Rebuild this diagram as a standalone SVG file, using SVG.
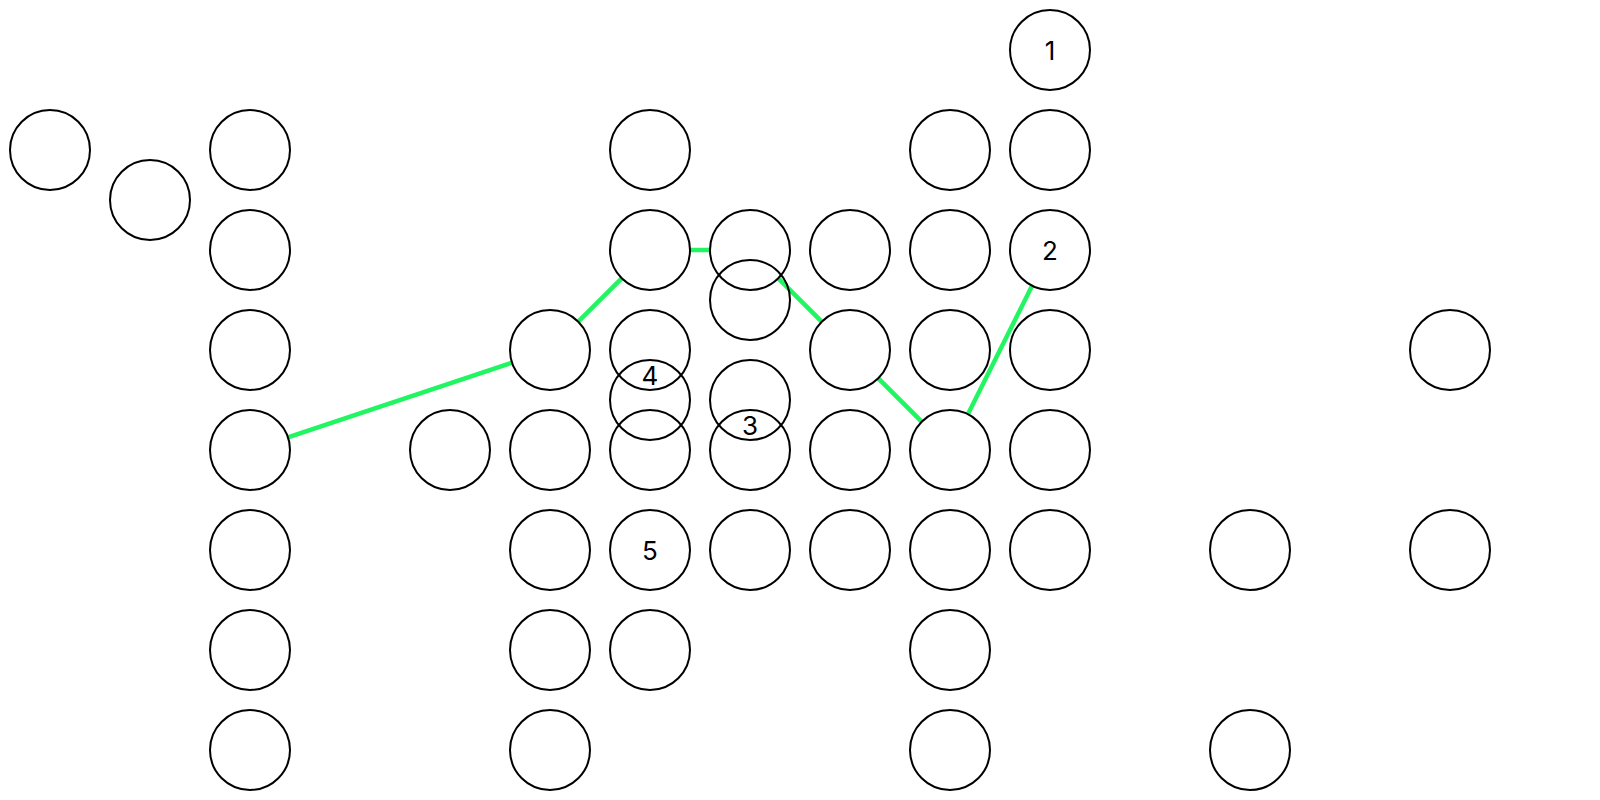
<svg xmlns="http://www.w3.org/2000/svg" width="1600" height="800" viewBox="0 0 1600 800">
<style>
.n{fill:none;stroke:#000;stroke-width:2}
.e{stroke:#22f562;stroke-width:4.5;fill:none}
.t{font-family:Inter,"Liberation Sans",sans-serif;font-size:26px;fill:#000;text-anchor:middle;dominant-baseline:central}
</style>
<rect width="1600" height="800" fill="#fff"/>
<g id="connectors">
<line class="e" x1="287.9" y1="437.4" x2="512.1" y2="362.6"/>
<line class="e" x1="578.3" y1="321.7" x2="621.7" y2="278.3"/>
<line class="e" x1="690" y1="250" x2="710" y2="250"/>
<line class="e" x1="778.3" y1="278.3" x2="821.7" y2="321.7"/>
<line class="e" x1="878.3" y1="378.3" x2="921.7" y2="421.7"/>
<line class="e" x1="967.9" y1="414.2" x2="1032.1" y2="285.8"/>
</g>
<g id="n1"><circle class="n" cx="1050" cy="50" r="40"/><text class="t" x="1050" y="50">1</text></g>
<g id="n_50_150"><circle class="n" cx="50" cy="150" r="40"/></g>
<g id="n_150_200"><circle class="n" cx="150" cy="200" r="40"/></g>
<g id="n_250_150"><circle class="n" cx="250" cy="150" r="40"/></g>
<g id="n_250_250"><circle class="n" cx="250" cy="250" r="40"/></g>
<g id="n_250_350"><circle class="n" cx="250" cy="350" r="40"/></g>
<g id="n_250_450"><circle class="n" cx="250" cy="450" r="40"/></g>
<g id="n_250_550"><circle class="n" cx="250" cy="550" r="40"/></g>
<g id="n_250_650"><circle class="n" cx="250" cy="650" r="40"/></g>
<g id="n_250_750"><circle class="n" cx="250" cy="750" r="40"/></g>
<g id="n_650_150"><circle class="n" cx="650" cy="150" r="40"/></g>
<g id="n_950_150"><circle class="n" cx="950" cy="150" r="40"/></g>
<g id="n_1050_150"><circle class="n" cx="1050" cy="150" r="40"/></g>
<g id="n_650_250"><circle class="n" cx="650" cy="250" r="40"/></g>
<g id="n_750_250"><circle class="n" cx="750" cy="250" r="40"/></g>
<g id="n_850_250"><circle class="n" cx="850" cy="250" r="40"/></g>
<g id="n_950_250"><circle class="n" cx="950" cy="250" r="40"/></g>
<g id="n2"><circle class="n" cx="1050" cy="250" r="40"/><text class="t" x="1050" y="250">2</text></g>
<g id="n_750_300"><circle class="n" cx="750" cy="300" r="40"/></g>
<g id="n_550_350"><circle class="n" cx="550" cy="350" r="40"/></g>
<g id="n_650_350"><circle class="n" cx="650" cy="350" r="40"/></g>
<g id="n_850_350"><circle class="n" cx="850" cy="350" r="40"/></g>
<g id="n_950_350"><circle class="n" cx="950" cy="350" r="40"/></g>
<g id="n_1050_350"><circle class="n" cx="1050" cy="350" r="40"/></g>
<g id="n_1450_350"><circle class="n" cx="1450" cy="350" r="40"/></g>
<g id="n_650_400"><circle class="n" cx="650" cy="400" r="40"/></g>
<g id="n_750_400"><circle class="n" cx="750" cy="400" r="40"/></g>
<g id="n_450_450"><circle class="n" cx="450" cy="450" r="40"/></g>
<g id="n_550_450"><circle class="n" cx="550" cy="450" r="40"/></g>
<g id="n_650_450"><circle class="n" cx="650" cy="450" r="40"/></g>
<g id="n_750_450"><circle class="n" cx="750" cy="450" r="40"/></g>
<g id="n_850_450"><circle class="n" cx="850" cy="450" r="40"/></g>
<g id="n_950_450"><circle class="n" cx="950" cy="450" r="40"/></g>
<g id="n_1050_450"><circle class="n" cx="1050" cy="450" r="40"/></g>
<g id="n_550_550"><circle class="n" cx="550" cy="550" r="40"/></g>
<g id="n5"><circle class="n" cx="650" cy="550" r="40"/><text class="t" x="650" y="550">5</text></g>
<g id="n_750_550"><circle class="n" cx="750" cy="550" r="40"/></g>
<g id="n_850_550"><circle class="n" cx="850" cy="550" r="40"/></g>
<g id="n_950_550"><circle class="n" cx="950" cy="550" r="40"/></g>
<g id="n_1050_550"><circle class="n" cx="1050" cy="550" r="40"/></g>
<g id="n_1250_550"><circle class="n" cx="1250" cy="550" r="40"/></g>
<g id="n_1450_550"><circle class="n" cx="1450" cy="550" r="40"/></g>
<g id="n_550_650"><circle class="n" cx="550" cy="650" r="40"/></g>
<g id="n_650_650"><circle class="n" cx="650" cy="650" r="40"/></g>
<g id="n_950_650"><circle class="n" cx="950" cy="650" r="40"/></g>
<g id="n_550_750"><circle class="n" cx="550" cy="750" r="40"/></g>
<g id="n_950_750"><circle class="n" cx="950" cy="750" r="40"/></g>
<g id="n_1250_750"><circle class="n" cx="1250" cy="750" r="40"/></g>
<g id="label4"><text class="t" x="650" y="375">4</text></g>
<g id="label3"><text class="t" x="750" y="425">3</text></g>
</svg>
